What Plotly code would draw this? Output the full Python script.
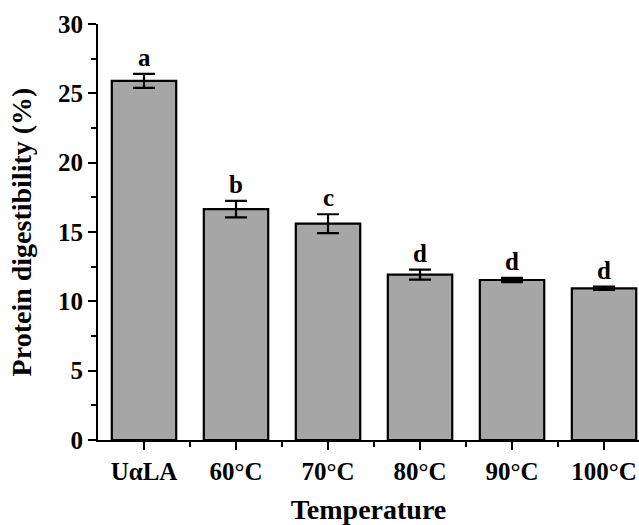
import plotly.graph_objects as go

categories = ["UαLA", "60°C", "70°C", "80°C", "90°C", "100°C"]
values = [25.9, 16.65, 15.6, 11.92, 11.54, 10.94]
errors = [0.5, 0.6, 0.68, 0.36, 0.15, 0.12]
letters = ["a", "b", "c", "d", "d", "d"]
y_ticks = [0, 5, 10, 15, 20, 25, 30]

xpos = list(range(len(categories)))
FONT = "Liberation Serif"

fig = go.Figure()
fig.add_trace(go.Bar(
    x=xpos, y=values, width=0.7,
    marker=dict(color="#a6a6a6", line=dict(color="black", width=2.2)),
    error_y=dict(type="data", array=errors, visible=True, color="black",
                 thickness=2.2, width=11),
    showlegend=False, hoverinfo="skip",
))

for xi, v, e, l in zip(xpos, values, errors, letters):
    fig.add_annotation(x=xi, y=v + e, text="<b>%s</b>" % l, showarrow=False,
                       yanchor="bottom", yshift=1,
                       font=dict(family=FONT, size=25, color="black"))

fig.update_layout(
    width=639, height=525,
    margin=dict(l=98, r=0, t=24, b=85),
    plot_bgcolor="white", paper_bgcolor="white",
    font=dict(family=FONT, size=25, color="black"),
)
fig.update_xaxes(
    range=[-0.5, 5.38], tickvals=xpos, ticktext=["<b>%s</b>" % c for c in categories],
    showline=True, linecolor="black", linewidth=2.2,
    ticks="outside", ticklen=8, tickwidth=2, tickcolor="black",
    showgrid=False, zeroline=False, automargin=False,
    minor=dict(tickvals=[i + 0.5 for i in xpos], ticks="outside", ticklen=5,
               tickwidth=2, tickcolor="black", showgrid=False),
    title=dict(text="<b>Temperature</b>", font=dict(family=FONT, size=28), standoff=16),
    tickfont=dict(family=FONT, size=25),
)
fig.update_yaxes(
    range=[0, 30], tickvals=y_ticks, ticktext=["<b>%d</b>" % t for t in y_ticks],
    showline=True, linecolor="black", linewidth=2.2,
    ticks="outside", ticklen=8, tickwidth=2, tickcolor="black",
    showgrid=False, zeroline=False, automargin=False,
    minor=dict(dtick=2.5, tick0=0, ticks="outside", ticklen=5, tickwidth=2,
               tickcolor="black", showgrid=False),
    title=dict(text="<b>Protein digestibility (%)</b>", font=dict(family=FONT, size=28), standoff=18),
    tickfont=dict(family=FONT, size=25),
)

fig.write_html("out.html", config={"displayModeBar": False},
               post_script="document.body.style.margin='0';document.body.style.overflow='hidden';")
